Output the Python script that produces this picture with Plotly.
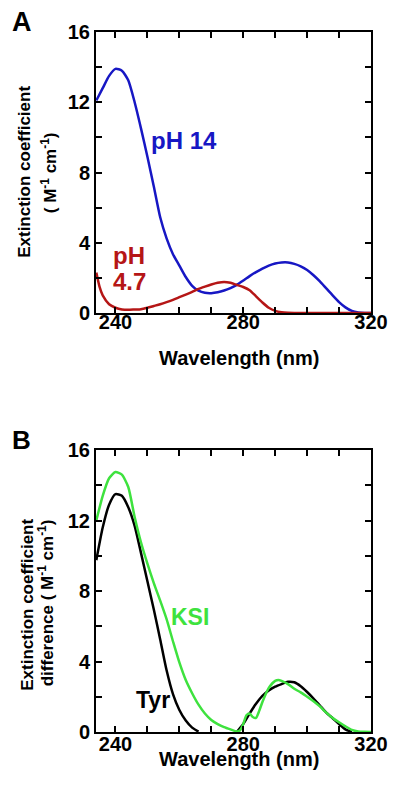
import plotly.graph_objects as go
from plotly.subplots import make_subplots

# ---------------- data ----------------
wl_a = [234, 236, 238, 240, 242, 244, 246, 248, 250, 252, 254, 256, 258, 260, 262, 264,
        266, 268, 270, 272, 274, 276, 278, 280, 282, 284, 286, 288, 290, 292, 294, 296,
        298, 300, 302, 304, 306, 308, 310, 312, 314, 316, 318, 320]
ph14 = [12.1, 12.8, 13.5, 13.9, 13.8, 13.25, 12.0, 10.5, 8.9, 7.2, 5.45, 4.25, 3.35, 2.7,
        2.05, 1.55, 1.27, 1.15, 1.13, 1.18, 1.28, 1.42, 1.6, 1.85, 2.1, 2.33, 2.53, 2.7,
        2.82, 2.88, 2.88, 2.8, 2.66, 2.45, 2.15, 1.8, 1.4, 1.0, 0.62, 0.32, 0.12, 0.03,
        0.0, 0.0]
wl_red = [234, 235, 236, 238, 240, 242, 244, 246, 248, 250, 252, 254, 256, 258, 260, 262,
          264, 266, 268, 270, 272, 274, 276, 278, 280, 282, 284, 286, 288, 290, 292, 294,
          296, 300, 305, 310, 315, 320]
ph47 = [2.3, 1.5, 1.0, 0.5, 0.3, 0.2, 0.18, 0.2, 0.22, 0.3, 0.4, 0.5, 0.62, 0.75, 0.9,
        1.05, 1.2, 1.37, 1.5, 1.62, 1.72, 1.77, 1.72, 1.6, 1.48, 1.3, 0.95, 0.6, 0.3, 0.12,
        0.04, 0.01, 0.0, 0.0, 0.0, 0.0, 0.0, 0.0]

wl_ksi = [234, 236, 238, 240, 242, 244, 246, 248, 250, 252, 254, 256, 258, 260, 262, 264,
          266, 268, 270, 272, 274, 276, 278, 279, 280, 281, 282, 283, 284, 285, 286, 288,
          290, 291, 292, 294, 296, 298, 300, 302, 304, 306, 308, 310, 312, 314, 316, 318, 320]
ksi = [12.0, 13.4, 14.4, 14.75, 14.6, 13.9, 12.2, 10.75, 9.55, 8.45, 7.45, 6.4, 5.15, 3.95,
       2.95, 2.2, 1.55, 1.05, 0.68, 0.45, 0.28, 0.15, 0.03, 0.1, 0.45, 0.95, 1.05, 0.85, 0.8,
       1.2, 1.7, 2.5, 2.9, 2.95, 2.9, 2.72, 2.45, 2.25, 2.0, 1.75, 1.45, 1.1, 0.8, 0.55,
       0.32, 0.12, 0.03, 0.01, 0.0]

wl_tyr = [234, 236, 238, 240, 242, 244, 246, 248, 250, 252, 254, 256, 258, 260, 262, 264,
          266, 272, 278, 280, 282, 284, 286, 288, 290, 292, 294, 296, 298, 300, 302, 304,
          306, 308, 310, 312, 314]
tyr = [9.75, 11.6, 12.9, 13.5, 13.4, 12.75, 11.7, 10.15, 8.55, 6.95, 5.25, 3.5, 2.15, 1.25,
       0.65, 0.25, 0.02, None, 0.0, 0.45, 1.05, 1.6, 2.05, 2.35, 2.57, 2.72, 2.85, 2.82,
       2.6, 2.27, 1.9, 1.5, 1.1, 0.78, 0.45, 0.15, 0.0]

x_tick0, x_major_step, x_minor_step = 240, 40, 10
y_tick0, y_major_step, y_minor_step = 0, 4, 2

BLUE = "#1717c4"
RED = "#b51616"
GREEN = "#3ee23e"
BLACK = "#000000"
FONT = "Liberation Sans, Arial, sans-serif"

# ---------------- layout geometry ----------------
W, H = 400, 791
L, R, T, B = 96, 22, 32, 59
PW, PH = W - L - R, H - T - B


def pxx(x):
    return (x - L) / PW


def pxy(y):
    return (H - B - y) / PH


fig = make_subplots(rows=2, cols=1)

line_kw = dict(width=2.5, shape="spline", smoothing=0.6)
fig.add_trace(go.Scatter(x=wl_a, y=ph14, mode="lines", line=dict(color=BLUE, **line_kw),
                         showlegend=False), row=1, col=1)
fig.add_trace(go.Scatter(x=wl_red, y=ph47, mode="lines", line=dict(color=RED, **line_kw),
                         showlegend=False), row=1, col=1)
fig.add_trace(go.Scatter(x=wl_tyr, y=tyr, mode="lines", line=dict(color=BLACK, **line_kw),
                         connectgaps=False, showlegend=False), row=2, col=1)
fig.add_trace(go.Scatter(x=wl_ksi, y=ksi, mode="lines", line=dict(color=GREEN, **line_kw),
                         showlegend=False), row=2, col=1)

tickfont = dict(family=FONT, size=20, color="black")

a_top, a_bot = pxy(T), pxy(313)
b_top, b_bot = pxy(450), pxy(H - B)

fig.update_xaxes(range=[233.9, 320], tickmode="linear", tick0=x_tick0, dtick=x_major_step,
                 showline=True, linewidth=2, linecolor="black", mirror="allticks",
                 ticks="inside", ticklen=6, tickwidth=2, tickcolor="black",
                 gridcolor="white", tickfont=tickfont, tickprefix="<b>", ticksuffix="</b>",
                 minor=dict(tick0=x_tick0, dtick=x_minor_step, ticks="inside", ticklen=6,
                            tickwidth=2, tickcolor="black"))
fig.update_yaxes(range=[0, 16], tickmode="linear", tick0=y_tick0, dtick=y_major_step,
                 showline=True, linewidth=2, linecolor="black", mirror="allticks",
                 ticks="inside", ticklen=6, tickwidth=2, tickcolor="black",
                 gridcolor="white", zerolinecolor="white", tickfont=tickfont,
                 tickprefix="<b>", ticksuffix="</b>",
                 minor=dict(tick0=y_tick0, dtick=y_minor_step, ticks="inside", ticklen=6,
                            tickwidth=2, tickcolor="black"))
fig.update_xaxes(domain=[0, 1])
fig.update_xaxes(ticklabelstandoff=-10, row=1, col=1)
fig.update_xaxes(ticklabelstandoff=-7, row=2, col=1)
fig.update_yaxes(domain=[a_bot, a_top], row=1, col=1)
fig.update_yaxes(domain=[b_bot, b_top], row=2, col=1)

ann = []


def add(text, x, y, size, color="black", angle=0, xanchor="center", xref="paper", yref="paper"):
    ann.append(dict(text=text, x=x, y=y, xref=xref, yref=yref, showarrow=False,
                    textangle=angle, xanchor=xanchor, yanchor="middle",
                    font=dict(family=FONT, size=size, color=color, weight="bold")))


# panel letters
add("A", pxx(20), pxy(22), 27)
add("B", pxx(20), pxy(440), 26)
# x titles
add("Wavelength (nm)", pxx(243), pxy(358), 20)
add("Wavelength (nm)", pxx(243), pxy(759), 20)
# y titles
add("Extinction coefficient", pxx(23), pxy(172), 17, angle=-90)
add("( M<sup>-1</sup> cm<sup>-1</sup>)", pxx(48), pxy(173), 17, angle=-90)
add("Extinction coefficient", pxx(25), pxy(605), 17, angle=-90)
add("difference ( M<sup>-1</sup> cm<sup>-1</sup>)", pxx(45), pxy(603), 17, angle=-90)
# in-plot labels
add("pH 14", 261.3, 9.8, 24, color=BLUE, xref="x", yref="y")
add("pH", 238.5, 3.3, 24, color=RED, xanchor="left", xref="x", yref="y")
add("4.7", 238.5, 1.77, 24, color=RED, xanchor="left", xref="x", yref="y")
add("KSI", 263.4, 6.5, 23, color=GREEN, xref="x2", yref="y2")
add("Tyr", 251.8, 1.8, 23, color=BLACK, xref="x2", yref="y2")

fig.update_layout(
    width=W, height=H, autosize=False,
    margin=dict(l=L, r=R, t=T, b=B),
    paper_bgcolor="white", plot_bgcolor="white",
    annotations=ann,
    showlegend=False,
)

fig.write_html("out.html", config={"displayModeBar": False},
               post_script="document.body.style.margin='0';document.body.style.overflow='hidden';")
